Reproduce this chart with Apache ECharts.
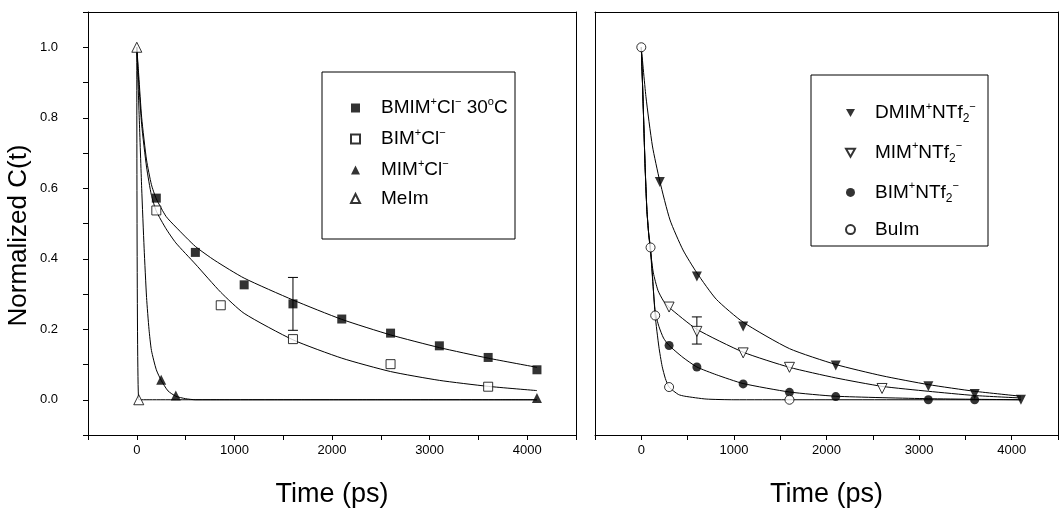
<!DOCTYPE html>
<html><head><meta charset="utf-8">
<script src="https://cdn.jsdelivr.net/npm/echarts@6/dist/echarts.min.js"></script>
<style>html,body{margin:0;padding:0;background:#fff}#c{width:1061px;height:516px}</style>
</head><body><div id="c"></div>
<script>
// ---------- Left panel data (Cl- salts) ----------
const bmimT = [200, 600, 1100, 1600, 2100, 2600, 3100, 3600, 4100];
const bmimC = [0.572, 0.418, 0.326, 0.272, 0.229, 0.189, 0.153, 0.120, 0.085];
const bmimErrT = [1600];
const bmimErrLo = [0.197];
const bmimErrHi = [0.347];
const bimT = [200, 860, 1600, 2600, 3600];
const bimC = [0.537, 0.268, 0.172, 0.101, 0.037];
const mimT = [250, 400, 4100];
const mimC = [0.057, 0.012, 0.005];
const meimT = [0, 20];
const meimC = [1.0, 0.0];
// fitted curves
const fitBmimT = [0, 20, 50, 100, 150, 200, 300, 400, 600, 800, 1100, 1600, 2100, 2600, 3100, 3600, 4100];
const fitBmimC = [1.0, 0.92, 0.80, 0.68, 0.61, 0.57, 0.52, 0.49, 0.435, 0.395, 0.345, 0.283, 0.228, 0.184, 0.148, 0.118, 0.092];
const fitBimT = [0, 20, 50, 100, 150, 200, 300, 400, 600, 860, 1100, 1600, 2100, 2600, 3100, 3600, 4100];
const fitBimC = [1.0, 0.90, 0.78, 0.66, 0.58, 0.535, 0.485, 0.445, 0.385, 0.305, 0.245, 0.170, 0.118, 0.080, 0.055, 0.038, 0.026];
const fitMimT = [0, 25, 50, 75, 100, 125, 150, 200, 250, 320, 400, 500, 600, 4100];
const fitMimC = [1.0, 0.80, 0.60, 0.43, 0.29, 0.20, 0.14, 0.085, 0.055, 0.025, 0.01, 0.003, 0.0, 0.0];
const fitMeimT = [0, 20, 4100];
const fitMeimC = [1.0, 0.0, 0.0];

// ---------- Right panel data (NTf2- salts) ----------
const dmimT = [200, 600, 1100, 2100, 3100, 3600, 4100];
const dmimC = [0.618, 0.350, 0.208, 0.097, 0.038, 0.016, 0.0];
const mim2T = [300, 600, 1100, 1600, 2600];
const mim2C = [0.263, 0.194, 0.133, 0.092, 0.032];
const mim2ErrT = [600];
const mim2ErrLo = [0.158];
const mim2ErrHi = [0.235];
const bim2T = [300, 600, 1100, 1600, 2100, 3100, 3600];
const bim2C = [0.154, 0.093, 0.045, 0.021, 0.009, 0.0, 0.0];
const buimT = [0, 100, 150, 300, 1600];
const buimC = [1.0, 0.432, 0.239, 0.036, 0.0];
const fitDmimT = [0, 50, 120, 200, 310, 450, 600, 810, 1100, 1600, 2100, 2600, 3100, 3600, 4100];
const fitDmimC = [1.0, 0.86, 0.72, 0.62, 0.51, 0.425, 0.36, 0.285, 0.22, 0.145, 0.100, 0.068, 0.043, 0.024, 0.01];
const fitMim2T = [0, 20, 40, 60, 80, 100, 130, 180, 240, 300, 600, 1100, 1600, 2100, 2600, 3100, 3600, 4100];
const fitMim2C = [1.0, 0.84, 0.67, 0.54, 0.47, 0.42, 0.36, 0.31, 0.28, 0.262, 0.20, 0.135, 0.092, 0.062, 0.038, 0.024, 0.012, 0.005];
const fitBim2T = [0, 20, 40, 60, 80, 100, 150, 190, 240, 300, 450, 600, 810, 1100, 1600, 2100, 3100, 4100];
const fitBim2C = [1.0, 0.84, 0.67, 0.54, 0.47, 0.42, 0.25, 0.208, 0.175, 0.154, 0.12, 0.093, 0.071, 0.046, 0.022, 0.01, 0.003, 0.0];
const fitBuimT = [0, 20, 40, 60, 80, 100, 150, 190, 225, 260, 300, 400, 470, 700, 1000, 4100];
const fitBuimC = [1.0, 0.84, 0.67, 0.54, 0.47, 0.432, 0.239, 0.15, 0.095, 0.06, 0.036, 0.015, 0.01, 0.002, 0.0, 0.0];

// ---------- Text ----------
const xTitle = 'Time (ps)';
const yTitle = 'Normalized C(t)';
const leftNames = ['BMIM', 'BIM', 'MIM', 'MeIm'];
const rightNames = ['DMIM2', 'MIM2', 'BIM2', 'BuIm'];
const legendRich = {
  'BMIM': '{t|BMIM}{sp|+}{t|Cl}{sp|−}{t| 30}{sp|o}{t|C}',
  'BIM': '{t|BIM}{sp|+}{t|Cl}{sp|−}',
  'MIM': '{t|MIM}{sp|+}{t|Cl}{sp|−}',
  'MeIm': '{t|MeIm}',
  'DMIM2': '{t|DMIM}{sp|+}{t|NTf}{sb|2}{sp|−}',
  'MIM2': '{t|MIM}{sp|+}{t|NTf}{sb|2}{sp|−}',
  'BIM2': '{t|BIM}{sp|+}{t|NTf}{sb|2}{sp|−}',
  'BuIm': '{t|BuIm}'
};

const FONT = "'Liberation Sans', Arial, sans-serif";
const NARROW = "'Liberation Sans Narrow', 'Arial Narrow', 'Liberation Sans', sans-serif";
const DOWN_TRI = 'path://M0,0L10,0L5,9Z';
const zip = (a, b) => a.map((v, i) => [v, b[i]]);
const zip3 = (a, b, c) => a.map((v, i) => [v, b[i], c[i]]);

const filled = { color: '#000' };
const open = { color: '#fff', borderColor: '#000', borderWidth: 1 };

function scatter(name, xi, yi, t, c, symbol, size, style, rot) {
  return { name, type: 'scatter', xAxisIndex: xi, yAxisIndex: yi, data: zip(t, c),
    symbol, symbolSize: size, symbolRotate: rot || 0, itemStyle: style, z: 5, silent: true };
}
function fit(name, xi, yi, t, c) {
  return { name, type: 'line', xAxisIndex: xi, yAxisIndex: yi, data: zip(t, c),
    showSymbol: false, symbol: 'none', smooth: 0.2,
    lineStyle: { color: '#000', width: 1 }, z: 2, silent: true };
}
function errBar(name, xi, yi, t, lo, hi) {
  return { name, type: 'custom', xAxisIndex: xi, yAxisIndex: yi, data: zip3(t, lo, hi), z: 4, silent: true,
    renderItem: (params, api) => {
      const p1 = api.coord([api.value(0), api.value(1)]);
      const p2 = api.coord([api.value(0), api.value(2)]);
      const w = 5;
      const st = { stroke: '#000', lineWidth: 1 };
      return { type: 'group', children: [
        { type: 'line', shape: { x1: p1[0], y1: p1[1], x2: p2[0], y2: p2[1] }, style: st },
        { type: 'line', shape: { x1: p1[0] - w, y1: p1[1], x2: p1[0] + w, y2: p1[1] }, style: st },
        { type: 'line', shape: { x1: p2[0] - w, y1: p2[1], x2: p2[0] + w, y2: p2[1] }, style: st }
      ]};
    } };
}

const axisLine = { show: true, onZero: false, lineStyle: { color: '#000', width: 1 } };
function xBottom(grid) {
  return { gridIndex: grid, type: 'value', position: 'bottom', min: -500, max: 4500, interval: 500,
    axisLine, axisTick: { show: true, length: 5, lineStyle: { color: '#000' } },
    axisLabel: { color: '#000', fontSize: 13, fontFamily: NARROW, margin: 9,
      formatter: v => (v >= 0 && Math.round(v) % 1000 === 0) ? String(Math.round(v)) : '' },
    splitLine: { show: false },
    name: xTitle, nameLocation: 'middle', nameGap: 46,
    nameTextStyle: { color: '#000', fontSize: 27, fontFamily: FONT } };
}
function xTop(grid) {
  return { gridIndex: grid, type: 'value', position: 'top', min: -500, max: 4500, interval: 500,
    axisLine, axisTick: { show: false }, axisLabel: { show: false }, splitLine: { show: false } };
}
function yLeft(grid, labels) {
  return { gridIndex: grid, type: 'value', position: 'left', min: -0.1, max: 1.1, interval: 0.1,
    axisLine, axisTick: { show: labels, length: 5, lineStyle: { color: '#000' } },
    axisLabel: { show: labels, color: '#000', fontSize: 13, fontFamily: NARROW, margin: 30,
      formatter: v => { const k = Math.round(v * 10); return (k >= 0 && k <= 10 && k % 2 === 0) ? (k / 10).toFixed(1) : ''; } },
    splitLine: { show: false },
    name: labels ? yTitle : '', nameLocation: 'middle', nameGap: 56, nameRotate: 90,
    nameTextStyle: { color: '#000', fontSize: 26, fontFamily: FONT, padding: [0, 24, 0, 0] } };
}
function yRight(grid) {
  return { gridIndex: grid, type: 'value', position: 'right', min: -0.1, max: 1.1, interval: 0.1,
    axisLine, axisTick: { show: false }, axisLabel: { show: false }, splitLine: { show: false } };
}

const richStyles = {
  t: { fontSize: 19, fontFamily: FONT, color: '#000', lineHeight: 24 },
  sp: { fontSize: 11, fontFamily: FONT, color: '#000', verticalAlign: 'top', lineHeight: 12 },
  sb: { fontSize: 12, fontFamily: FONT, color: '#000', verticalAlign: 'bottom', lineHeight: 12 }
};

const chart = echarts.init(document.getElementById('c'), null, { renderer: 'canvas' });
chart.setOption({
  animation: false,
  backgroundColor: '#fff',
  grid: [
    { left: 88, top: 12, width: 488, height: 423 },
    { left: 595, top: 12, width: 481, height: 423 }
  ],
  xAxis: [xBottom(0), xTop(0), xBottom(1), xTop(1)],
  yAxis: [yLeft(0, true), yRight(0), yLeft(1, false), yRight(1)],
  legend: [
    { data: leftNames, orient: 'vertical', left: 350, top: 96, itemWidth: 9, itemHeight: 9, itemGap: 9.5,
      padding: 0, formatter: n => legendRich[n], selectedMode: false,
      textStyle: { padding: [0, 0, 0, 16], rich: richStyles } },
    { data: [
        { name: 'DMIM2', icon: DOWN_TRI },
        { name: 'MIM2', icon: DOWN_TRI },
        { name: 'BIM2' },
        { name: 'BuIm' }
      ], orient: 'vertical', left: 845, top: 101, itemWidth: 9, itemHeight: 9, itemGap: 15.7,
      padding: 0, formatter: n => legendRich[n], selectedMode: false,
      textStyle: { padding: [0, 0, 0, 15], rich: richStyles } }
  ],
  graphic: [
    { type: 'rect', shape: { x: 322, y: 72, width: 193, height: 167 }, style: { fill: 'none', stroke: '#000', lineWidth: 1 }, z: 10 },
    { type: 'rect', shape: { x: 811, y: 75, width: 177, height: 171 }, style: { fill: 'none', stroke: '#000', lineWidth: 1 }, z: 10 }
  ],
  series: [
    fit('fitBmim', 0, 0, fitBmimT, fitBmimC),
    fit('fitBim', 0, 0, fitBimT, fitBimC),
    fit('fitMim', 0, 0, fitMimT, fitMimC),
    fit('fitMeim', 0, 0, fitMeimT, fitMeimC),
    errBar('errBmim', 0, 0, bmimErrT, bmimErrLo, bmimErrHi),
    scatter('BMIM', 0, 0, bmimT, bmimC, 'rect', 9, filled),
    scatter('BIM', 0, 0, bimT, bimC, 'rect', 9, open),
    scatter('MIM', 0, 0, mimT, mimC, 'triangle', 10, filled),
    scatter('MeIm', 0, 0, meimT, meimC, 'triangle', 10, open),

    fit('fitDmim', 2, 2, fitDmimT, fitDmimC),
    fit('fitMim2', 2, 2, fitMim2T, fitMim2C),
    fit('fitBim2', 2, 2, fitBim2T, fitBim2C),
    fit('fitBuim', 2, 2, fitBuimT, fitBuimC),
    errBar('errMim2', 2, 2, mim2ErrT, mim2ErrLo, mim2ErrHi),
    scatter('DMIM2', 2, 2, dmimT, dmimC, 'triangle', 10, filled, 180),
    scatter('MIM2', 2, 2, mim2T, mim2C, 'triangle', 10, open, 180),
    scatter('BIM2', 2, 2, bim2T, bim2C, 'circle', 9, filled),
    scatter('BuIm', 2, 2, buimT, buimC, 'circle', 9, open)
  ]
});
</script>
</body></html>
